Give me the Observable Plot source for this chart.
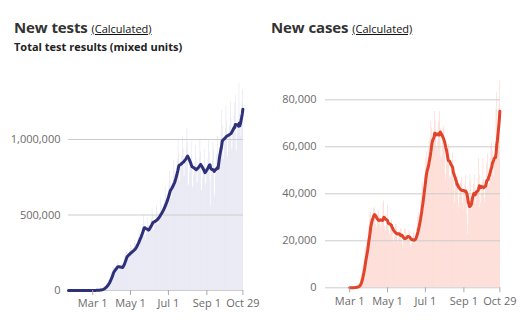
<!DOCTYPE html>
<html><head><meta charset="utf-8">
<script src="https://cdn.jsdelivr.net/npm/d3@7"></script>
<script src="https://cdn.jsdelivr.net/npm/@observablehq/plot@0.6"></script>
<style>
body{margin:0;background:#fff;font-family:"Open Sans",sans-serif;}
#wrap{position:relative;width:520px;height:329px;overflow:hidden}
.title{position:absolute;font-size:15px;font-weight:700;color:#333;line-height:15px;white-space:nowrap;letter-spacing:-0.1px}
.title a{font-size:11px;font-weight:400;color:#111;text-decoration:underline;letter-spacing:0}
.sub{position:absolute;font-size:11px;font-weight:700;color:#222;line-height:11px;white-space:nowrap}
.chart{position:absolute;top:60px}
</style></head>
<body><div id="wrap">
<div class="title" style="left:14px;top:20px">New tests <a>(Calculated)</a></div>
<div class="sub" style="left:14px;top:41px">Total test results (mixed units)</div>
<div class="title" style="left:271px;top:20px">New cases <a>(Calculated)</a></div>
<div class="chart" id="c1" style="left:0"></div>
<div class="chart" id="c2" style="left:260px"></div>
</div>
<script>
const xStart = "2020-01-22";
const xEnd = "2020-10-30";
const testsStart = "2020-01-22";
const testsDaily = [
0,0,0,0,0,0,0,0,0,0,0,0,0,0,0,0,0,0,0,0,0,0,0,0,0,0,0,0,0,0,0,0,0,0,0,0,0,0,0,
300,500,700,900,1200,1500,1800,
1800,2000,2500,3000,3500,4000,4200,
6000,8000,11000,14000,19000,22000,25000,
30000,35000,42000,48000,57000,67000,71000,
85000,95000,110000,120000,130000,150000,157000,
130000,135000,150000,157000,165000,188000,174000,
135000,130000,143000,150000,160000,180000,166000,
170000,180000,205000,225000,240000,265000,255000,
210000,212000,238000,250000,262000,300000,278000,
235000,235000,262000,276000,290000,331000,303000,
285000,285000,318000,335000,352000,402000,368000,
353000,353000,394000,415000,436000,498000,456000,
360000,330000,375000,400000,425000,480000,430000,
383000,383000,427000,450000,472000,540000,495000,
398000,398000,445000,468000,491000,562000,514000,
434000,434000,484000,510000,535000,612000,561000,
485000,485000,541000,570000,598000,684000,627000,
561000,561000,627000,660000,693000,792000,726000,
608000,608000,679000,715000,751000,858000,786000,
704000,704000,787000,828000,869000,994000,910000,
723000,723000,807000,850000,892000,1020000,935000,
756000,756000,846000,890000,935000,1068000,979000,
697000,697000,779000,820000,861000,984000,902000,
680000,680000,760000,800000,840000,960000,880000,
710000,710000,793000,835000,877000,1002000,918000,
663000,663000,741000,780000,819000,936000,858000,
705000,705000,789000,830000,872000,996000,913000,
720000,560000,740000,810000,860000,980000,930000,
640000,620000,760000,830000,900000,1020000,900000,
844000,844000,943000,993000,1043000,1192000,1092000,
869000,869000,971000,1022000,1073000,1226000,1124000,
884000,884000,988000,1040000,1092000,1248000,1144000,
935000,935000,1045000,1100000,1155000,1240000,1290000,
927000,927000,1036000,1090000,1110000,1370000,1170000,
1020000,1080000,1180000,1250000,1330000
];
const casesStart = "2020-03-01";
const casesDaily = [
10,20,30,40,60,80,100,
100,150,250,300,400,500,600,
800,1100,1600,2500,4000,5000,6000,
8500,10000,10500,12000,16500,17500,16000,
19000,21000,24000,26000,29000,31000,32000,
28000,29000,30000,31000,34000,34000,29500,
27000,25000,26000,29000,31000,33000,30500,
27000,26000,25000,28500,30500,36000,37000,
26000,23000,24000,26500,29000,35000,29000,
25000,22000,23000,25000,28000,29000,26500,
20000,19000,21000,22000,27000,27000,25000,
19000,20000,21000,22000,24000,25000,25000,
20000,18000,17000,20000,22000,25000,25000,
21000,19500,20000,20500,21500,24000,24000,
18000,17000,18500,20000,21500,23500,23000,
19000,18500,23000,25000,27500,30000,32000,
27000,28000,33000,37000,39000,45000,43000,
42000,43000,48000,52000,55000,58000,52000,
48000,50000,60000,62000,64000,71000,68000,
59000,57000,63000,67000,75000,71000,63000,
60000,58000,62000,70000,71000,75000,68000,
56000,55000,59000,65000,68000,69000,62000,
48000,46000,52000,55000,55000,61000,61000,
47000,42000,47000,52000,52000,57000,46000,
43000,36000,42000,45000,47000,48000,47000,
36000,34000,39000,43000,45000,47000,46000,
36000,33000,40000,41000,44000,48000,42000,
31000,23000,27000,34000,37000,48000,45000,
34000,33000,38000,39000,44000,48000,41000,
36000,40000,38000,41000,46000,55000,48000,
34000,36000,42000,40000,45000,55000,46000,
36000,38000,43000,48000,53000,57000,47000,
44000,42000,50000,55000,60000,62000,58000,
48000,47000,56000,57000,60000,76000,83000,
60000,67000,74000,78000,88000
];
const xTickDates = ["2020-03-01","2020-05-01","2020-07-01","2020-09-01","2020-10-29"];
const xTickLabels = ["Mar 1","May 1","Jul 1","Sep 1","Oct 29"];
const testsYTicks = [0, 500000, 1000000];
const casesYTicks = [0, 20000, 40000, 60000, 80000];

function toRows(start, values) {
  const s = new Date(start + "T00:00:00Z");
  return values.map((v, i) => ({date: d3.utcDay.offset(s, i), value: v}));
}
const xt = xTickDates.map(d => new Date(d + "T00:00:00Z"));
const fmtX = d => xTickLabels[xt.findIndex(t => +t === +d)];

function panel(o) {
  return Plot.plot({
    width: 260, height: 269,
    marginLeft: o.ml, marginRight: o.mr, marginTop: o.mt, marginBottom: o.mb,
    style: {fontFamily: "'Open Sans', sans-serif", fontSize: "11px", color: "#6b6b6b", background: "transparent", overflow: "visible"},
    x: {type: "utc", domain: [new Date(xStart + "T00:00:00Z"), new Date(xEnd + "T00:00:00Z")], label: null},
    y: {domain: o.yDomain, label: null},
    marks: [
      Plot.rectY(o.data, {x1: "date", x2: d => d3.utcDay.offset(d.date, 1), y: "value", fill: o.bar}),
      Plot.gridY(o.yTicks, {stroke: "#cccccc", strokeOpacity: 1}),
      Plot.lineY(o.data, Plot.windowY({k: 7, anchor: "end", reduce: "mean"}, {x: "date", y: "value", stroke: o.line, strokeWidth: 3, strokeLinejoin: "round"})),
      Plot.axisY(o.yTicks, {tickSize: 0, tickPadding: o.tp, tickFormat: d3.format(","), fill: "#6b6b6b", label: null}),
      Plot.axisX(xt, {tickSize: 5, tickPadding: 4, tickFormat: fmtX, stroke: "#aaaaaa", fill: "#6b6b6b", label: null})
    ]
  });
}

document.getElementById("c1").append(panel({
  data: toRows(testsStart, testsDaily), yDomain: [0, 1400000], yTicks: testsYTicks,
  bar: "#e4e4f2", line: "#2e3079", ml: 68, mr: 17, mt: 18.6, mb: 39, tp: 8
}));
document.getElementById("c2").append(panel({
  data: toRows(casesStart, casesDaily), yDomain: [0, 90000], yTicks: casesYTicks,
  bar: "#fdd6ce", line: "#e2432b", ml: 65, mr: 20, mt: 15.8, mb: 41.7, tp: 9
}));
</script>
</body></html>
